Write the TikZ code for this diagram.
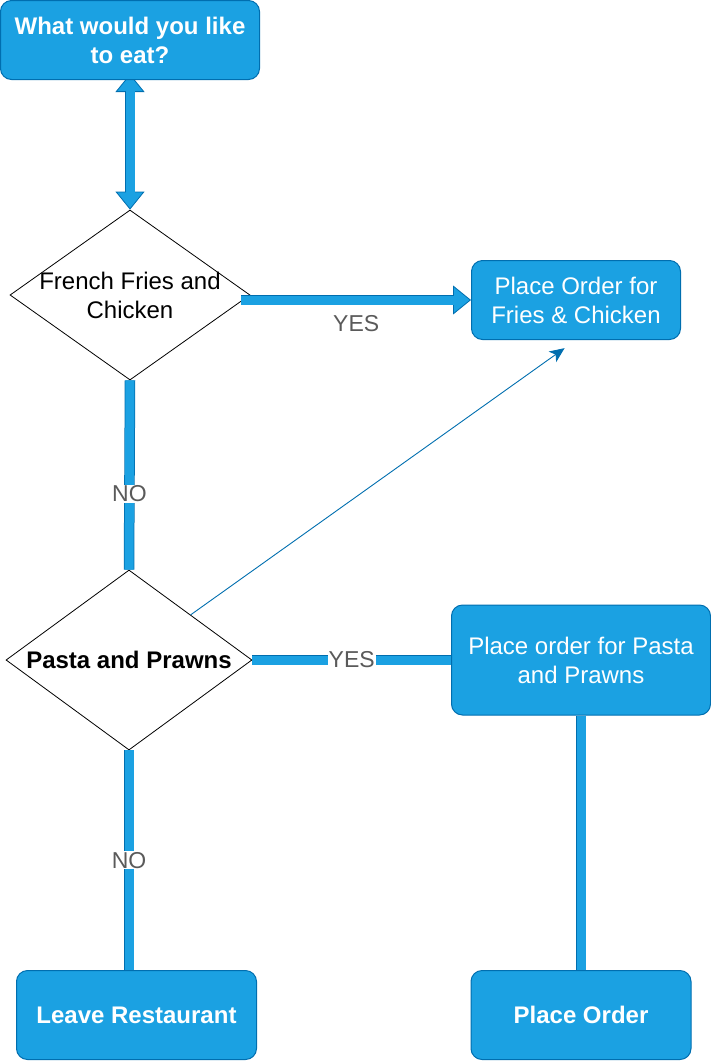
\documentclass[tikz,border=0pt]{standalone}
\usepackage{fontspec}
\setmainfont{Liberation Sans}
\usetikzlibrary{shapes.geometric,arrows.meta,backgrounds}
\definecolor{fillblue}{HTML}{1BA1E2}
\definecolor{lineblue}{HTML}{006EAF}
\definecolor{labelgray}{HTML}{5A5A5A}

\begin{document}
\begin{tikzpicture}[x=1pt, y=-1pt,
	every node/.style={font=\fontsize{24}{29}\selectfont},
	box/.style={rectangle, rounded corners=11pt, draw=lineblue, fill=fillblue, text=white, align=center, line width=1pt},
	boldbox/.style={box, font=\bfseries\fontsize{24}{29}\selectfont},
	decision/.style={diamond, aspect=1.4, draw=black, fill=white, align=center, inner xsep=-30pt, inner ysep=0pt, line width=0.8pt},
	edgelabel/.style={font=\fontsize{23}{28}\selectfont, text=labelgray, fill=white, inner sep=1pt},
	flexhead/.tip={Triangle[length=18pt, width=29pt, line width=0.8pt, fill=fillblue]},
	ribbon/.style={draw=lineblue, line width=10.5pt, postaction={draw=fillblue, line width=9pt}},
	flexarrow/.style={draw=lineblue, line width=10.5pt, -{flexhead}, postaction={draw=fillblue, line width=9pt, -, shorten >=17pt}},
	dflexarrow/.style={draw=lineblue, line width=10.5pt, {flexhead}-{flexhead}, postaction={draw=fillblue, line width=9pt, -, shorten >=17pt, shorten <=17pt}},
	thinarrow/.style={draw=lineblue, line width=0.9pt, -{Stealth[length=15pt, width=13pt, inset=4pt]}, shorten >=14pt}]
	\useasboundingbox (0,0) rectangle (711,1061);

	\node[boldbox, minimum width=259pt, minimum height=79pt] (start) at (130,40) {What would you like\\to eat?};
	\node[decision, minimum width=240pt, minimum height=170pt] (fries) at (130,295) {French Fries and\\Chicken};
	\node[box, minimum width=209pt, minimum height=79pt] (order1) at (576,300) {Place Order for\\Fries \& Chicken};
	\node[decision, font=\bfseries\fontsize{24}{29}\selectfont, minimum width=246pt, minimum height=180pt] (pasta) at (129,660) {Pasta and Prawns};
	\node[box, minimum width=259pt, minimum height=110pt] (order2) at (581,660) {Place order for Pasta\\and Prawns};
	\node[boldbox, minimum width=240pt, minimum height=89pt] (leave) at (136.5,1015) {Leave Restaurant};
	\node[boldbox, minimum width=220pt, minimum height=89pt] (done) at (581,1015) {Place Order};

	\begin{scope}[on background layer]
		\draw[dflexarrow] ([yshift=6pt]start.south) -- (fries.north);
	\end{scope}
	\draw[flexarrow] ([xshift=-9pt]fries.east |- order1.west) -- node[edgelabel, fill=none, below=9pt, pos=0.5] {YES} (order1.west);
	\draw[ribbon] (fries.south) -- node[edgelabel, pos=0.6] {NO} (pasta.north);
	\draw[ribbon] (pasta.east) -- node[edgelabel] {YES} (order2.west);
	\draw[ribbon] (pasta.south) -- node[edgelabel] {NO} (pasta.south |- leave.north);
	\draw[ribbon] (order2.south) -- (done.north);
	\draw[thinarrow] (pasta.north east) -- (order1.south);
\end{tikzpicture}
\end{document}
